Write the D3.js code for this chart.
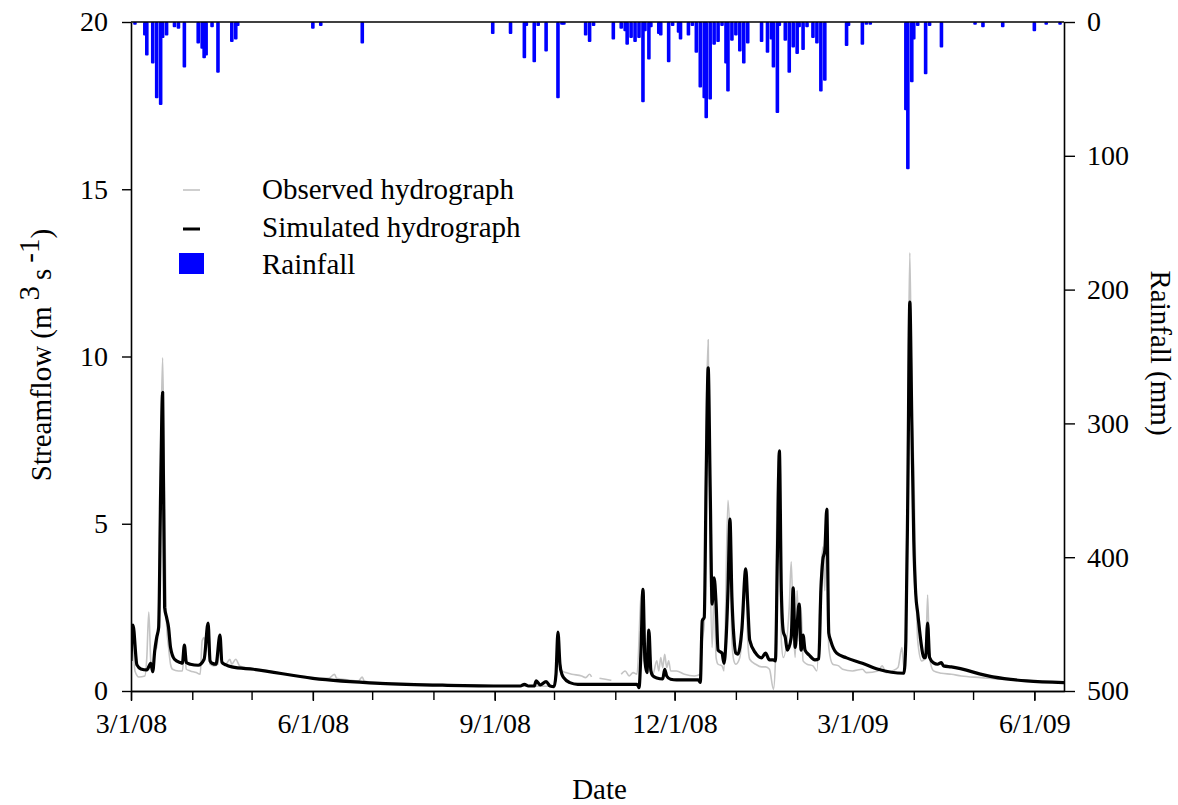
<!DOCTYPE html>
<html>
<head>
<meta charset="utf-8">
<script src="https://cdn.jsdelivr.net/npm/d3@7"></script>
<style>
  html, body { margin: 0; padding: 0; background: #fff; }
  svg { display: block; font-family: "Liberation Serif", "Times New Roman", serif; }
</style>
</head>
<body>
<svg id="chart" width="1178" height="805"></svg>
<script>
// Daily rainfall (mm)
const rainDates = [
  "2008-03-03","2008-03-08","2008-03-09","2008-03-12","2008-03-14","2008-03-16","2008-03-17","2008-03-19",
  "2008-03-23","2008-03-25","2008-03-28","2008-04-04","2008-04-06","2008-04-07","2008-04-08","2008-04-11",
  "2008-04-14","2008-04-21","2008-04-23","2008-04-24","2008-06-01","2008-06-05","2008-06-26","2008-08-31",
  "2008-09-09","2008-09-16","2008-09-17","2008-09-21","2008-09-23","2008-09-27","2008-10-03","2008-10-05",
  "2008-10-06","2008-10-17","2008-10-19","2008-10-21","2008-10-31","2008-11-04","2008-11-06","2008-11-07",
  "2008-11-09","2008-11-11","2008-11-13","2008-11-15","2008-11-16","2008-11-18","2008-11-19","2008-11-23",
  "2008-11-24","2008-11-28","2008-11-30","2008-12-03","2008-12-04","2008-12-08","2008-12-10","2008-12-12",
  "2008-12-14","2008-12-16","2008-12-17","2008-12-19","2008-12-21","2008-12-23","2008-12-25","2008-12-27",
  "2008-12-28","2008-12-30","2009-01-01","2009-01-03","2009-01-05","2009-01-07","2009-01-14","2009-01-17",
  "2009-01-19","2009-01-20","2009-01-22","2009-01-23","2009-01-26","2009-01-28","2009-01-30","2009-02-01",
  "2009-02-02","2009-02-04","2009-02-06","2009-02-09","2009-02-11","2009-02-13","2009-02-15","2009-02-26",
  "2009-02-27","2009-03-06","2009-03-08","2009-03-10","2009-03-28","2009-03-29","2009-03-31","2009-04-01",
  "2009-04-03","2009-04-07","2009-04-09","2009-04-15","2009-05-02","2009-05-06","2009-05-16","2009-06-01",
  "2009-06-07","2009-06-14"
];
const rainMM = [
  2, 10, 25, 31, 57, 62, 12, 10,
  4, 5, 34, 16, 20, 27, 25, 4,
  38, 15, 13, 3, 5, 3, 16, 9,
  9, 27, 3, 30, 3, 22, 57, 2,
  2, 10, 15, 3, 13, 5, 7, 17,
  12, 15, 12, 60, 7, 28, 4, 9,
  10, 30, 3, 8, 13, 10, 3, 23,
  49, 57, 72, 58, 17, 15, 3, 31,
  52, 14, 10, 22, 31, 16, 15, 23,
  13, 34, 68, 3, 14, 38, 19, 24,
  4, 21, 4, 12, 16, 52, 44, 18,
  3, 17, 2, 2, 66, 110, 45, 13,
  3, 39, 3, 19, 2, 4, 4, 7,
  2, 2
];

// Simulated streamflow (m3/s)
const simDates = [
  "2008-03-01","2008-03-02","2008-03-04","2008-03-06","2008-03-09","2008-03-11","2008-03-12","2008-03-13",
  "2008-03-14","2008-03-15","2008-03-16","2008-03-17","2008-03-18","2008-03-19","2008-03-20","2008-03-21",
  "2008-03-23","2008-03-26","2008-03-27","2008-03-28","2008-03-29","2008-03-31","2008-04-04","2008-04-07",
  "2008-04-09","2008-04-10","2008-04-11","2008-04-13","2008-04-15","2008-04-16","2008-04-18","2008-04-21",
  "2008-05-02","2008-06-01","2008-07-05","2008-08-08","2008-09-07","2008-09-14","2008-09-16","2008-09-18",
  "2008-09-21","2008-09-22","2008-09-24","2008-09-27","2008-09-29","2008-10-01","2008-10-02","2008-10-03",
  "2008-10-04","2008-10-05","2008-10-06","2008-10-09","2008-10-13","2008-11-12","2008-11-13","2008-11-14",
  "2008-11-15","2008-11-16","2008-11-17","2008-11-18","2008-11-19","2008-11-20","2008-11-22","2008-11-25",
  "2008-11-26","2008-11-27","2008-11-29","2008-12-02","2008-12-13","2008-12-14","2008-12-15","2008-12-16",
  "2008-12-17","2008-12-18","2008-12-19","2008-12-20","2008-12-21","2008-12-22","2008-12-23","2008-12-25",
  "2008-12-26","2008-12-27","2008-12-28","2008-12-29","2008-12-30","2008-12-31","2009-01-01","2009-01-02",
  "2009-01-03","2009-01-04","2009-01-06","2009-01-07","2009-01-08","2009-01-11","2009-01-14","2009-01-16",
  "2009-01-18","2009-01-20","2009-01-21","2009-01-22","2009-01-23","2009-01-24","2009-01-25","2009-01-26",
  "2009-01-27","2009-01-29","2009-01-30","2009-01-31","2009-02-01","2009-02-02","2009-02-03","2009-02-04",
  "2009-02-05","2009-02-07","2009-02-10","2009-02-12","2009-02-13","2009-02-14","2009-02-15","2009-02-16",
  "2009-02-17","2009-02-18","2009-02-21","2009-02-26","2009-03-06","2009-03-14","2009-03-27","2009-03-28",
  "2009-03-29","2009-03-30","2009-03-31","2009-04-01","2009-04-02","2009-04-03","2009-04-05","2009-04-06",
  "2009-04-07","2009-04-08","2009-04-09","2009-04-11","2009-04-13","2009-04-15","2009-04-16","2009-04-20",
  "2009-05-11","2009-05-28","2009-06-16"
];
const simFlow = [
  0.9, 1.97, 0.78, 0.66, 0.63, 0.83, 0.58, 1.2,
  1.6, 1.9, 6.0, 8.93, 2.5, 2.2, 1.9, 1.3,
  0.95, 0.85, 0.83, 1.37, 0.85, 0.8, 0.77, 0.95,
  2.03, 0.9, 0.83, 0.8, 1.67, 0.86, 0.78, 0.72,
  0.65, 0.38, 0.23, 0.17, 0.15, 0.15, 0.2, 0.15,
  0.15, 0.3, 0.18, 0.28, 0.15, 0.13, 0.5, 1.76,
  0.8, 0.5, 0.39, 0.25, 0.2, 0.2, 0.1, 1.2,
  3.04, 0.9, 0.55, 1.82, 0.6, 0.45, 0.39, 0.36,
  0.65, 0.45, 0.35, 0.33, 0.33, 0.26, 2.1, 2.2,
  6.5, 9.66, 6.1, 2.6, 3.38, 2.6, 1.22, 1.13,
  0.83, 1.5, 3.0, 5.14, 2.8, 1.6, 1.13, 1.1,
  1.3, 1.82, 3.65, 2.6, 1.52, 1.13, 0.99, 1.13,
  0.93, 0.93, 0.9, 4.0, 7.18, 3.0, 1.77, 1.6,
  1.22, 1.6, 3.08, 1.3, 2.0, 2.6, 1.22, 1.67,
  1.22, 1.08, 0.93, 0.97, 3.0, 3.92, 4.2, 5.44,
  1.73, 1.5, 1.13, 0.99, 0.83, 0.65, 0.53, 1.5,
  6.0, 11.63, 8.1, 4.5, 2.9, 2.33, 1.3, 1.0,
  1.0, 2.03, 1.0, 0.84, 0.8, 0.85, 0.75, 0.72,
  0.42, 0.3, 0.25
];

// Observed streamflow (m3/s); null marks missing records
const obsDates = [
  "2008-03-01","2008-03-02","2008-03-03","2008-03-05","2008-03-08","2008-03-09","2008-03-10","2008-03-11",
  "2008-03-12","2008-03-13","2008-03-14","2008-03-15","2008-03-16","2008-03-17","2008-03-18","2008-03-19",
  "2008-03-20","2008-03-21","2008-03-22","2008-03-25","2008-03-27","2008-03-28","2008-03-29","2008-03-31",
  "2008-04-03","2008-04-05","2008-04-06","2008-04-07","2008-04-08","2008-04-09","2008-04-10","2008-04-12",
  "2008-04-14","2008-04-15","2008-04-16","2008-04-18","2008-04-20","2008-04-21","2008-04-23","2008-04-25",
  "2008-04-30","2008-05-10","2008-05-20","2008-05-30","2008-06-04","2008-06-09","2008-06-12","2008-06-13",
  "2008-06-19","2008-06-24","2008-06-26","2008-06-27","2008-07-04","2008-07-19","2008-08-08","2008-08-28",
  "2008-09-12","2008-10-01","2008-10-02","2008-10-03","2008-10-04","2008-10-05","2008-10-07","2008-10-10",
  "2008-10-15","2008-10-17","2008-10-19","2008-10-20","2008-10-21","2008-10-24","2008-10-27","2008-10-30",
  "2008-10-31","2008-11-04","2008-11-06","2008-11-08","2008-11-10","2008-11-12","2008-11-14","2008-11-15",
  "2008-11-16","2008-11-18","2008-11-19","2008-11-20","2008-11-22","2008-11-23","2008-11-24","2008-11-25",
  "2008-11-26","2008-11-27","2008-11-28","2008-11-29","2008-12-02","2008-12-06","2008-12-11","2008-12-14",
  "2008-12-15","2008-12-16","2008-12-17","2008-12-18","2008-12-19","2008-12-20","2008-12-21","2008-12-22",
  "2008-12-23","2008-12-25","2008-12-26","2008-12-28","2008-12-29","2008-12-30","2008-12-31","2009-01-01",
  "2009-01-03","2009-01-05","2009-01-06","2009-01-07","2009-01-08","2009-01-11","2009-01-14","2009-01-16",
  "2009-01-18","2009-01-20","2009-01-21","2009-01-22","2009-01-23","2009-01-24","2009-01-25","2009-01-28",
  "2009-01-29","2009-01-30","2009-01-31","2009-02-01","2009-02-02","2009-02-03","2009-02-04","2009-02-06",
  "2009-02-09","2009-02-11","2009-02-13","2009-02-14","2009-02-15","2009-02-16","2009-02-17","2009-02-19",
  "2009-02-22","2009-02-24","2009-03-01","2009-03-06","2009-03-08","2009-03-14","2009-03-16","2009-03-18",
  "2009-03-21","2009-03-24","2009-03-26","2009-03-27","2009-03-28","2009-03-29","2009-03-30","2009-03-31",
  "2009-04-01","2009-04-02","2009-04-03","2009-04-05","2009-04-07","2009-04-08","2009-04-09","2009-04-11",
  "2009-04-15","2009-04-20","2009-04-25","2009-05-05","2009-05-15","2009-05-27"
];
const obsFlow = [
  2.2, 1.5, 0.6, 0.42, 0.45, 1.0, 2.36, 0.9,
  0.55, 1.2, 1.3, 2.5, 7.0, 9.96, 5.7, 2.0,
  1.3, 0.8, 0.65, 0.6, 0.6, 1.2, 0.65, 0.6,
  0.55, 0.5, 1.5, 1.6, 1.2, 1.8, 0.8, 0.75,
  0.8, 1.5, 0.8, 0.8, 0.95, 0.8, 0.95, 0.75,
  0.68, 0.6, 0.48, 0.42, 0.38, 0.38, 0.5, 0.38,
  0.33, 0.3, 0.42, 0.3, 0.25, 0.22, 0.19, 0.16,
  0.15, 0.14, 0.6, 1.7, 0.9, 0.6, 0.55, 0.5,
  0.45, 0.4, 0.5, 0.42, null, 0.38, 0.35, 0.32,
  null, 0.5, 0.6, 0.45, 0.55, 0.5, 2.8, 3.0,
  0.7, 1.7, 0.8, 0.5, 0.9, 0.6, 1.0, 0.7,
  1.1, 0.7, 0.9, 0.6, 0.6, 0.5, 0.45, 0.5,
  1.5, 2.0, 8.0, 10.5, 4.0, 1.3, 3.0, 1.0,
  0.8, 0.75, 0.6, 5.7, 4.5, 1.5, 0.9, 0.8,
  1.0, 2.4, 3.4, 1.5, 0.95, 0.8, 0.72, 0.72,
  0.65, 0.05, 0.9, 6.5, 5.5, 1.5, 1.0, 2.5,
  3.86, 2.0, 1.0, 3.0, 1.5, 2.5, 0.9, 0.8,
  0.75, 0.6, 3.5, 4.3, 3.0, 5.2, 1.3, 0.8,
  0.75, 0.65, 0.6, 0.65, 0.55, 0.6, 0.75, 0.55,
  0.6, 0.7, 1.3, 0.7, 2.0, 8.0, 13.1, 8.6,
  6.7, 3.5, 1.5, 0.9, 1.0, 2.87, 1.0, 0.6,
  0.53, 0.5, 0.45, 0.4, 0.35, 0.32
];

// Axis ticks
const dateTickLabels = ["3/1/08", "6/1/08", "9/1/08", "12/1/08", "3/1/09", "6/1/09"];
const flowTicks = [0, 5, 10, 15, 20];
const rainTicks = [0, 100, 200, 300, 400, 500];
const legendLabels = ["Observed hydrograph", "Simulated hydrograph", "Rainfall"];

const parseISO = d3.timeParse("%Y-%m-%d");
const parseTick = d3.timeParse("%m/%d/%y");

const svg = d3.select("#chart");
const plot = { x0: 131, x1: 1064, y0: 22, y1: 691 };
const TICK_FONT = 28;
const TEXT_FONT = 29;

const x = d3.scaleTime()
  .domain([parseISO("2008-03-01"), parseISO("2009-06-16")])
  .range([plot.x0, plot.x1]);
const y = d3.scaleLinear().domain([0, 20]).range([plot.y1, plot.y0]);
const yRain = d3.scaleLinear().domain([0, 500]).range([plot.y0, plot.y1]);

svg.append("defs").append("clipPath").attr("id", "plot-clip")
  .append("rect").attr("x", plot.x0).attr("y", plot.y0)
  .attr("width", plot.x1 - plot.x0).attr("height", plot.y1 - plot.y0);

// Rainfall bars hanging from the top
const rain = rainDates.map((d, i) => ({ date: parseISO(d), v: rainMM[i] }));
const barW = 3.6;
svg.append("g").attr("clip-path", "url(#plot-clip)")
  .selectAll("rect").data(rain).join("rect")
  .attr("x", d => x(d.date) - barW / 2)
  .attr("y", yRain(0))
  .attr("width", barW)
  .attr("height", d => yRain(d.v) - yRain(0))
  .attr("rx", 1)
  .attr("fill", "#0000ff");

// Hydrographs
const obs = obsDates.map((d, i) => ({ date: parseISO(d), v: obsFlow[i] }));
const sim = simDates.map((d, i) => ({ date: parseISO(d), v: simFlow[i] }));

const line = d3.line()
  .defined(d => d.v !== null)
  .curve(d3.curveMonotoneX)
  .x(d => x(d.date))
  .y(d => y(d.v));

const lines = svg.append("g").attr("clip-path", "url(#plot-clip)");
lines.append("path").datum(obs)
  .attr("d", line)
  .attr("fill", "none")
  .attr("stroke", "#c4c4c4")
  .attr("stroke-width", 1.6)
  .attr("stroke-linejoin", "round");
lines.append("path").datum(sim)
  .attr("d", line)
  .attr("fill", "none")
  .attr("stroke", "#000")
  .attr("stroke-width", 3.2)
  .attr("stroke-linejoin", "round");

// Frame
svg.append("line").attr("x1", plot.x0).attr("x2", plot.x1).attr("y1", plot.y0).attr("y2", plot.y0)
  .attr("stroke", "#000").attr("stroke-width", 1.6);

function styleAxis(g) {
  g.select(".domain").attr("stroke", "#000").attr("stroke-width", 1.6);
  g.selectAll(".tick line").attr("stroke", "#000").attr("stroke-width", 1.4);
  g.selectAll(".tick text")
    .attr("fill", "#000")
    .style("font-family", '"Liberation Serif", "Times New Roman", serif')
    .style("font-size", TICK_FONT + "px");
}

// Left axis: streamflow
svg.append("g")
  .attr("transform", `translate(${plot.x0},0)`)
  .call(d3.axisLeft(y).tickValues(flowTicks).tickSize(9).tickSizeOuter(0).tickPadding(14))
  .call(styleAxis);

// Right axis: rainfall, downward
svg.append("g")
  .attr("transform", `translate(${plot.x1},0)`)
  .call(d3.axisRight(yRain).tickValues(rainTicks).tickSize(11).tickSizeOuter(0).tickPadding(12))
  .call(styleAxis);

// Bottom axis: monthly minor ticks, quarterly labels
const minorTicks = d3.timeMonth.range(parseISO("2008-03-01"), parseISO("2009-06-16"));
svg.append("g")
  .attr("transform", `translate(0,${plot.y1})`)
  .call(d3.axisBottom(x).tickValues(minorTicks).tickSize(9).tickSizeOuter(0).tickFormat(""))
  .call(styleAxis);
svg.append("g")
  .attr("transform", `translate(0,${plot.y1})`)
  .call(d3.axisBottom(x).tickValues(dateTickLabels.map(parseTick))
    .tickSize(10).tickSizeOuter(0).tickPadding(12)
    .tickFormat((d, i) => dateTickLabels[i]))
  .call(styleAxis);

// Axis titles
svg.append("text")
  .attr("x", (plot.x0 + plot.x1) / 2 + 2).attr("y", 799)
  .attr("text-anchor", "middle")
  .style("font-size", TEXT_FONT + "px")
  .text("Date");

const yTitle = svg.append("text")
  .attr("transform", "translate(51,355) rotate(-90)")
  .attr("text-anchor", "middle")
  .style("font-size", TEXT_FONT + "px");
yTitle.append("tspan").text("Streamflow (m");
yTitle.append("tspan").attr("dy", -12).attr("dx", 6).text("3");
yTitle.append("tspan").attr("dy", 12).attr("dx", 6).text("s");
yTitle.append("tspan").attr("dy", -12).attr("dx", 6).text("-1");
yTitle.append("tspan").attr("dy", 12).text(")");

svg.append("text")
  .attr("transform", "translate(1151,353) rotate(90)")
  .attr("text-anchor", "middle")
  .style("font-size", TEXT_FONT + "px")
  .text("Rainfall (mm)");

// Legend
const legend = svg.append("g");
legend.append("line").attr("x1", 183).attr("x2", 200).attr("y1", 190).attr("y2", 190)
  .attr("stroke", "#c4c4c4").attr("stroke-width", 1.6);
legend.append("line").attr("x1", 183).attr("x2", 200).attr("y1", 229).attr("y2", 229)
  .attr("stroke", "#000").attr("stroke-width", 3);
legend.append("rect").attr("x", 179).attr("y", 253).attr("width", 25).attr("height", 21)
  .attr("fill", "#0000ff");
legend.selectAll("text.lbl").data(legendLabels).join("text")
  .attr("class", "lbl")
  .attr("x", 262)
  .attr("y", (d, i) => [199, 237, 274][i])
  .style("font-size", TEXT_FONT + "px")
  .text(d => d);
</script>
</body>
</html>
